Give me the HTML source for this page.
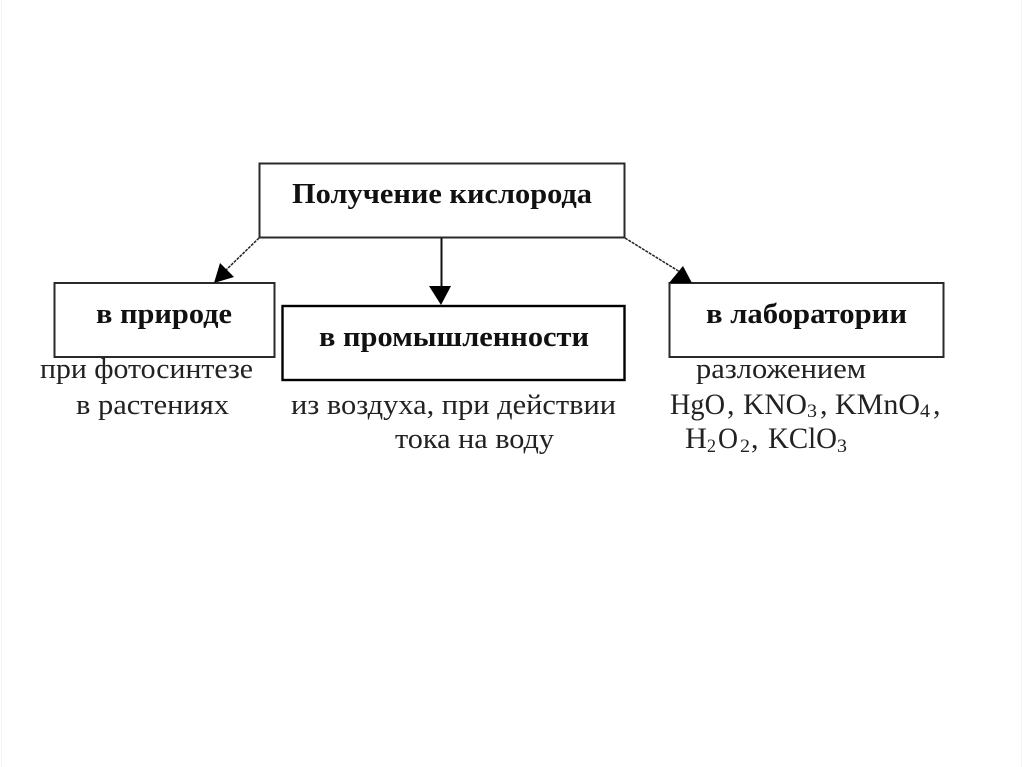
<!DOCTYPE html>
<html lang="ru">
<head>
<meta charset="utf-8">
<style>
html,body{margin:0;padding:0;background:#fff;width:1024px;height:767px;overflow:hidden}
svg{display:block}
text{font-family:"Liberation Serif","DejaVu Serif",serif;fill:#111}
.b{font-weight:bold;font-size:29px}
.r{font-size:28px;fill:#222}
.f{font-size:30px;fill:#222}
.s{font-size:19px;fill:#222}
</style>
</head>
<body>
<svg width="1024" height="767" viewBox="0 0 1024 767" xmlns="http://www.w3.org/2000/svg">
<rect width="1024" height="767" fill="#fff"/>
<line x1="1.5" y1="0" x2="1.5" y2="767" stroke="#f4f4f4"/>
<line x1="1021.5" y1="0" x2="1021.5" y2="767" stroke="#f4f4f4"/>

<g fill="none" stroke-width="2">
<rect x="259.5" y="163.5" width="365" height="74" stroke="#2a2a2a"/>
<rect x="54.5" y="283" width="220" height="74" stroke="#2a2a2a"/>
<rect x="282.5" y="306" width="342" height="74" stroke="#000" stroke-width="2.4"/>
<rect x="669.5" y="283" width="274" height="74" stroke="#2a2a2a"/>
</g>

<line x1="259" y1="238" x2="224" y2="272" stroke="#222" stroke-width="1.5" stroke-dasharray="3 1"/>
<polygon points="214,283 220,263 234,277" fill="#000"/>
<line x1="441.5" y1="238" x2="441.5" y2="290" stroke="#111" stroke-width="2"/>
<polygon points="429,286 451,286 441,305" fill="#000"/>
<line x1="625" y1="238" x2="680" y2="272" stroke="#222" stroke-width="1.5" stroke-dasharray="3 1"/>
<polygon points="669,283 683,266 692,283" fill="#000"/>

<text class="b" x="292" y="203" textLength="300" lengthAdjust="spacingAndGlyphs">Получение кислорода</text>
<text class="b" x="96" y="323" textLength="136" lengthAdjust="spacingAndGlyphs">в природе</text>
<text class="b" x="319" y="346" textLength="270" lengthAdjust="spacingAndGlyphs">в промышленности</text>
<text class="b" x="706" y="323" textLength="201" lengthAdjust="spacingAndGlyphs">в лаборатории</text>

<text class="r" x="40" y="378" textLength="213" lengthAdjust="spacingAndGlyphs">при фотосинтезе</text>
<text class="r" x="76" y="414" textLength="153" lengthAdjust="spacingAndGlyphs">в растениях</text>
<text class="r" x="291" y="414" textLength="325" lengthAdjust="spacingAndGlyphs">из воздуха, при действии</text>
<text class="r" x="395" y="448" textLength="159" lengthAdjust="spacingAndGlyphs">тока на воду</text>
<text class="r" x="696" y="378" textLength="170" lengthAdjust="spacingAndGlyphs">разложением</text>

<text class="f" x="670" y="414" textLength="55" lengthAdjust="spacingAndGlyphs">HgO</text>
<text class="f" x="727" y="414">,</text>
<text class="f" x="743" y="414" textLength="64" lengthAdjust="spacingAndGlyphs">KNO</text>
<text class="s" x="807" y="417" textLength="10" lengthAdjust="spacingAndGlyphs">3</text>
<text class="f" x="820" y="414">,</text>
<text class="f" x="835" y="414" textLength="85" lengthAdjust="spacingAndGlyphs">KMnO</text>
<text class="s" x="920" y="417" textLength="10" lengthAdjust="spacingAndGlyphs">4</text>
<text class="f" x="933" y="414">,</text>

<text class="f" x="685" y="448" textLength="22" lengthAdjust="spacingAndGlyphs">H</text>
<text class="s" x="707" y="452" textLength="9" lengthAdjust="spacingAndGlyphs">2</text>
<text class="f" x="718" y="448" textLength="20" lengthAdjust="spacingAndGlyphs">O</text>
<text class="s" x="740" y="452" textLength="10" lengthAdjust="spacingAndGlyphs">2</text>
<text class="f" x="751" y="448">,</text>
<text class="f" x="768" y="448" textLength="69" lengthAdjust="spacingAndGlyphs">KClO</text>
<text class="s" x="837" y="452" textLength="10" lengthAdjust="spacingAndGlyphs">3</text>
</svg>
</body>
</html>
